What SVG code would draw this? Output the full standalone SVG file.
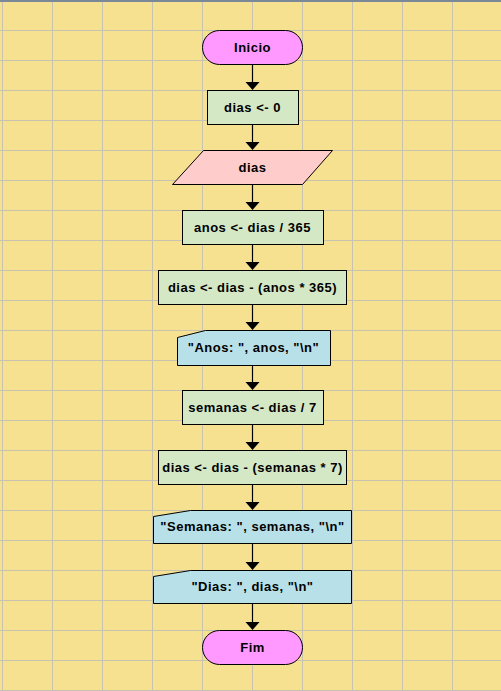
<svg xmlns="http://www.w3.org/2000/svg" width="501" height="691" viewBox="0 0 501 691">
<style>
.bg{fill:#F5E18F}
.grid{stroke:#C8C2B0;stroke-width:1;fill:none}
.shape{stroke:#000;stroke-width:1}
.term{fill:#FF99FF}
.proc{fill:#D5E8C6}
.inp{fill:#FFCCCC}
.out{fill:#B8E0E8}
.lbl{font-family:"Liberation Sans",Arial,sans-serif;font-weight:bold;font-size:13px;letter-spacing:0.5px;fill:#000;text-anchor:middle}
.conn{stroke:#000;stroke-width:1.2;fill:none}
</style>
<rect class="bg" x="0" y="0" width="501" height="691"/>
<path class="grid" d="M2.5,0V691M52.5,0V691M102.5,0V691M152.5,0V691M202.5,0V691M252.5,0V691M302.5,0V691M352.5,0V691M402.5,0V691M452.5,0V691M0,30.5H501M0,60.5H501M0,90.5H501M0,120.5H501M0,150.5H501M0,180.5H501M0,210.5H501M0,240.5H501M0,270.5H501M0,300.5H501M0,330.5H501M0,360.5H501M0,390.5H501M0,420.5H501M0,450.5H501M0,480.5H501M0,510.5H501M0,540.5H501M0,570.5H501M0,600.5H501M0,630.5H501M0,660.5H501M0,690.5H501"/>
<rect x="0" y="0" width="501" height="2" fill="#7A8898"/>
<g id="connectors">
<line class="conn" x1="252.5" y1="64" x2="252.5" y2="82"/>
<line class="conn" x1="252.5" y1="124" x2="252.5" y2="142"/>
<line class="conn" x1="252.5" y1="184" x2="252.5" y2="202"/>
<line class="conn" x1="252.5" y1="244" x2="252.5" y2="262"/>
<line class="conn" x1="252.5" y1="304" x2="252.5" y2="322"/>
<line class="conn" x1="252.5" y1="365" x2="252.5" y2="382"/>
<line class="conn" x1="252.5" y1="424" x2="252.5" y2="442"/>
<line class="conn" x1="252.5" y1="484" x2="252.5" y2="502"/>
<line class="conn" x1="252.5" y1="543" x2="252.5" y2="562"/>
<line class="conn" x1="252.5" y1="602" x2="252.5" y2="622"/>
<polygon points="245.5,82 259.5,82 252.5,90"/>
<polygon points="245.5,142 259.5,142 252.5,150"/>
<polygon points="245.5,202 259.5,202 252.5,210"/>
<polygon points="245.5,262 259.5,262 252.5,270"/>
<polygon points="245.5,322 259.5,322 252.5,330"/>
<polygon points="245.5,382 259.5,382 252.5,390"/>
<polygon points="245.5,442 259.5,442 252.5,450"/>
<polygon points="245.5,502 259.5,502 252.5,510"/>
<polygon points="245.5,562 259.5,562 252.5,570"/>
<polygon points="245.5,622 259.5,622 252.5,630"/>
</g>
<g id="inicio">
<rect class="shape term" x="202.5" y="30.5" width="100" height="34" rx="17"/>
<text class="lbl" x="252.5" y="52">Inicio</text>
</g>
<g id="dias0">
<rect class="shape proc" x="207.5" y="90.5" width="91" height="34"/>
<text class="lbl" x="252.5" y="112">dias &lt;- 0</text>
</g>
<g id="leer">
<polygon class="shape inp" points="203.5,150.5 332.5,150.5 302.5,184.5 172.5,184.5"/>
<text class="lbl" x="252.5" y="172">dias</text>
</g>
<g id="anos">
<rect class="shape proc" x="182.5" y="210.5" width="141" height="34"/>
<text class="lbl" x="252.5" y="232">anos &lt;- dias / 365</text>
</g>
<g id="dias1">
<rect class="shape proc" x="158.5" y="270.5" width="188" height="34"/>
<text class="lbl" x="252.5" y="292">dias &lt;- dias - (anos * 365)</text>
</g>
<g id="outAnos">
<path class="shape out" d="M177.5,337.5 L205.5,330.5 H330.5 V365.5 H177.5 Z"/>
<text class="lbl" x="253.5" y="352">"Anos: ", anos, "\n"</text>
</g>
<g id="semanas">
<rect class="shape proc" x="182.5" y="390.5" width="141" height="34"/>
<text class="lbl" x="252.5" y="412">semanas &lt;- dias / 7</text>
</g>
<g id="dias2">
<rect class="shape proc" x="158.5" y="450.5" width="188" height="34"/>
<text class="lbl" x="252.5" y="472">dias &lt;- dias - (semanas * 7)</text>
</g>
<g id="outSemanas">
<path class="shape out" d="M153.5,516.5 L190.5,510.5 H351.5 V543.5 H153.5 Z"/>
<text class="lbl" x="252.5" y="531">"Semanas: ", semanas, "\n"</text>
</g>
<g id="outDias">
<path class="shape out" d="M153.5,576.5 L190.5,570.5 H351.5 V603.5 H153.5 Z"/>
<text class="lbl" x="252.5" y="591">"Dias: ", dias, "\n"</text>
</g>
<g id="fim">
<rect class="shape term" x="202.5" y="630.5" width="100" height="34" rx="17"/>
<text class="lbl" x="252.5" y="652">Fim</text>
</g>
</svg>
